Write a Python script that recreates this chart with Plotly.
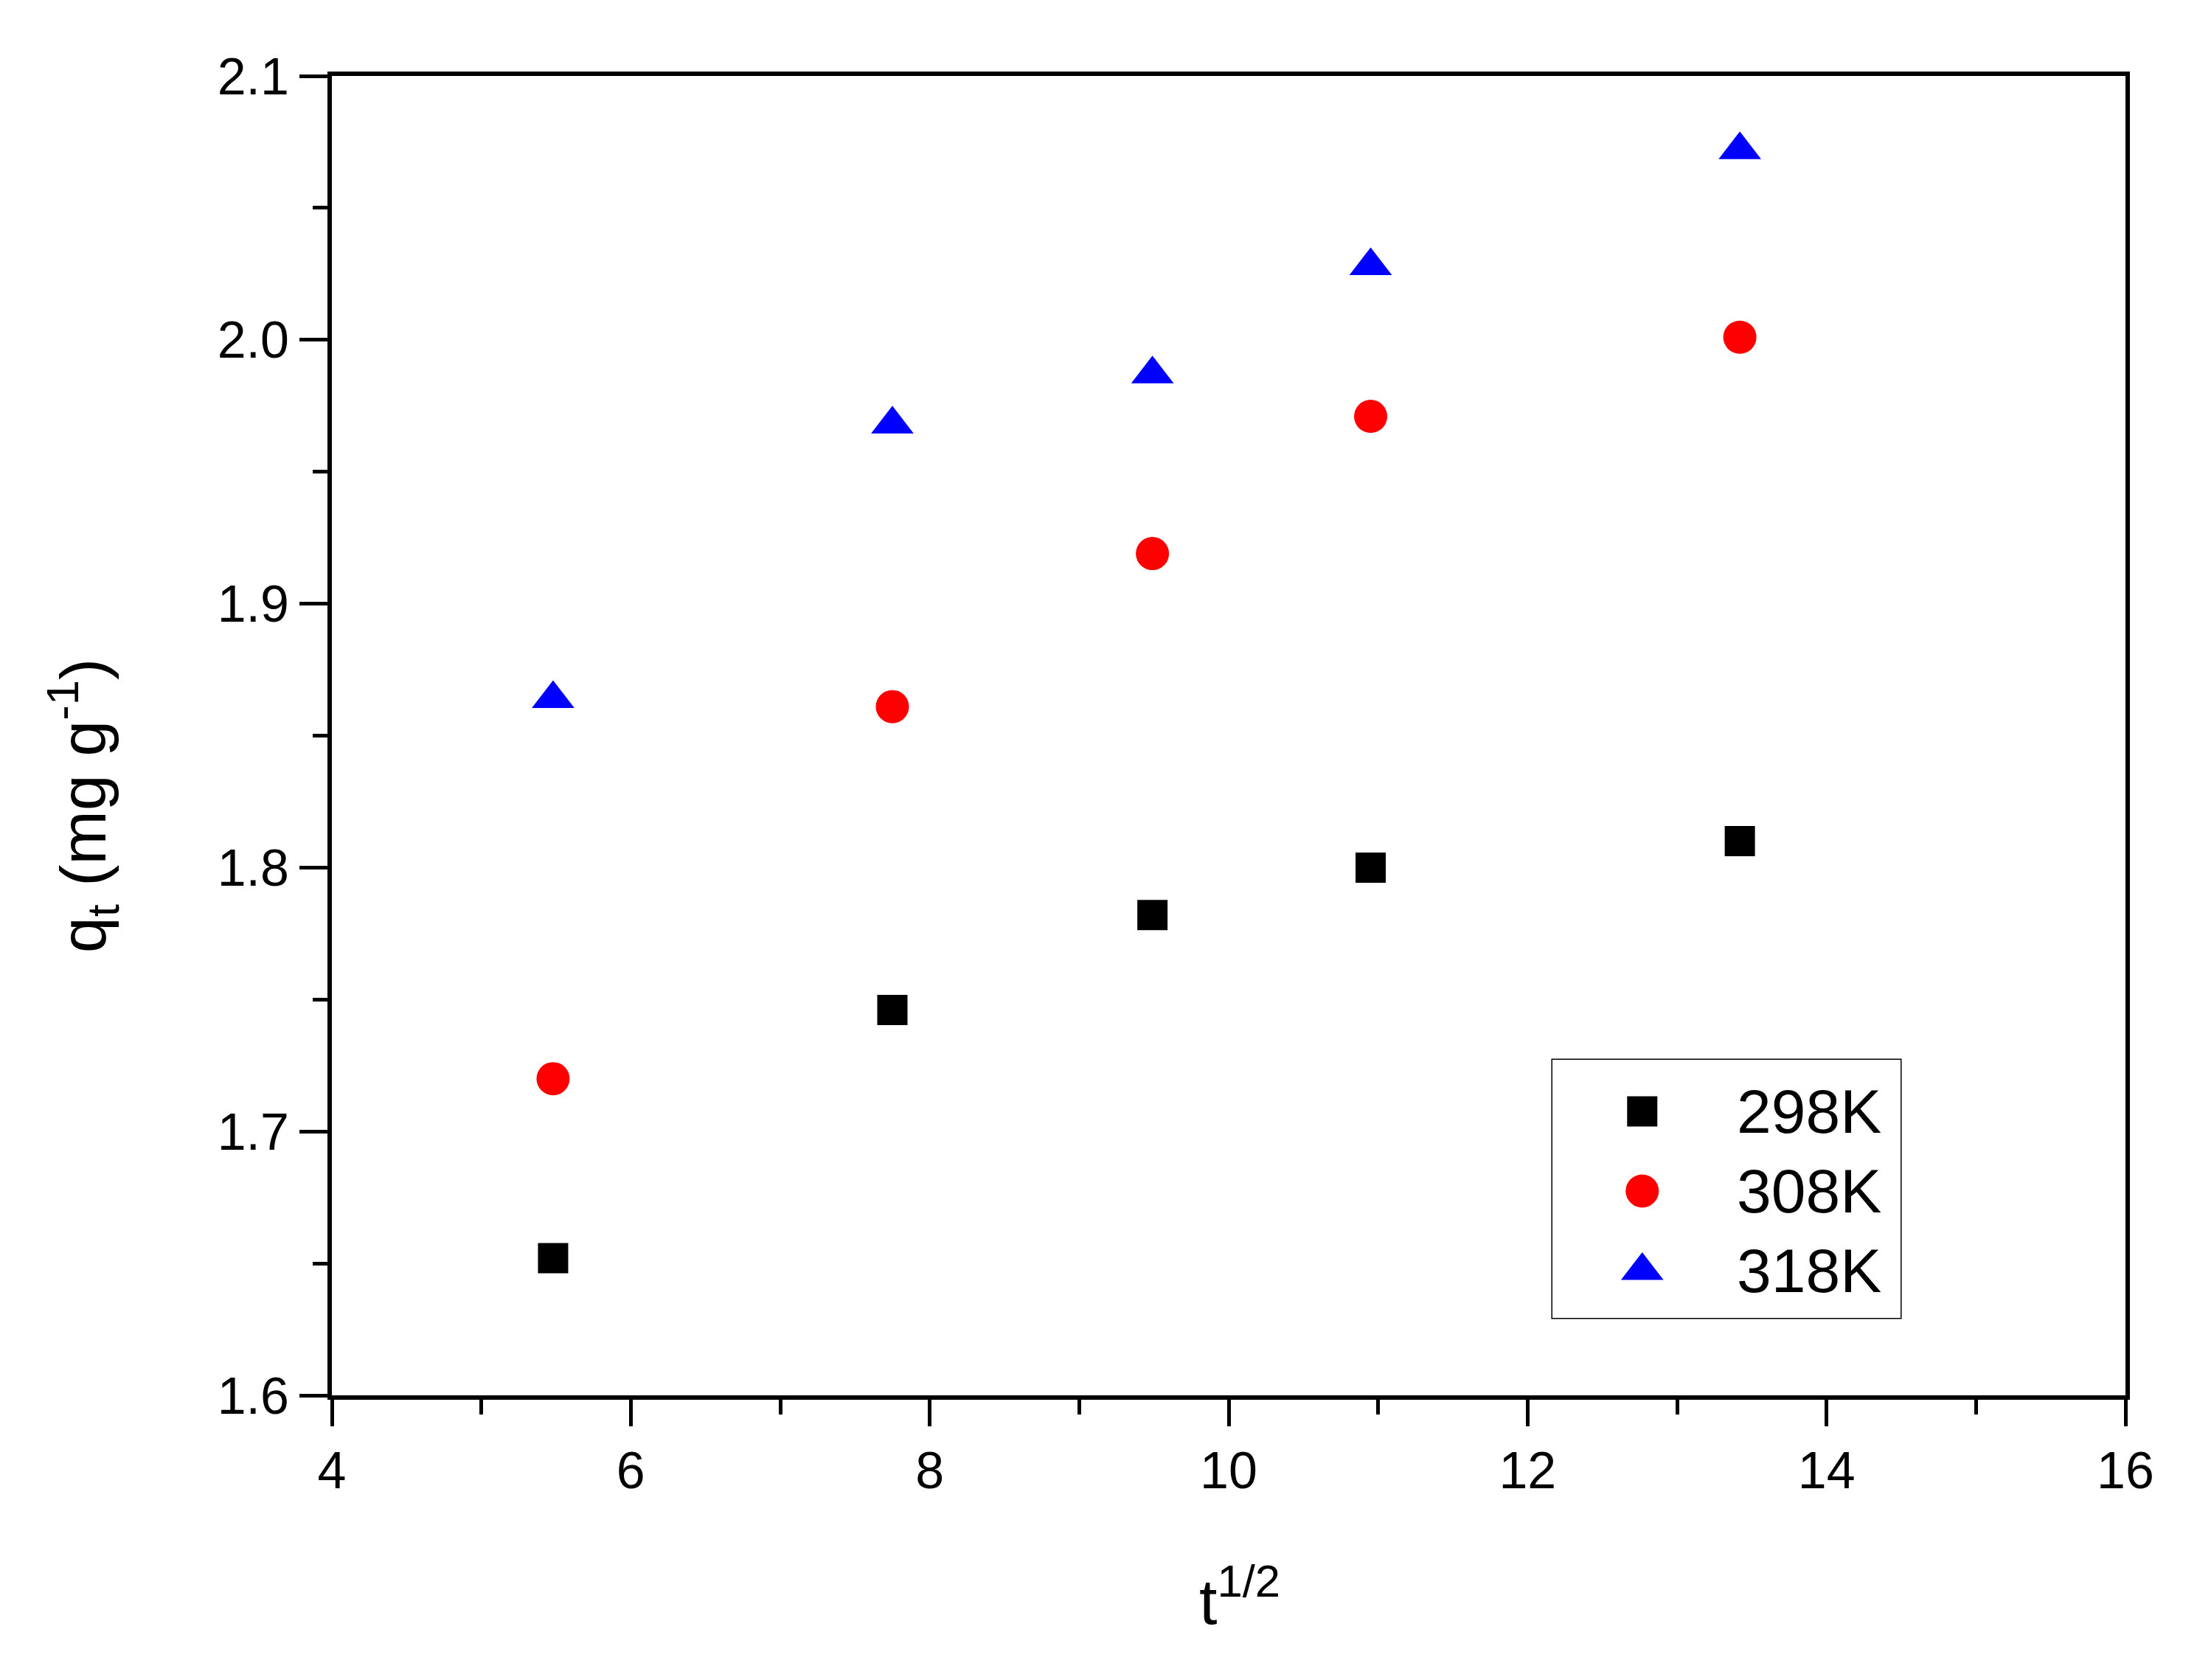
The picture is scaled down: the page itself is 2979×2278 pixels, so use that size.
import plotly.graph_objects as go

# sqrt(t) values shared by all three temperatures
sqrt_t = [5.48, 7.75, 9.49, 10.95, 13.42]

# q_t (mg/g) for each temperature
q_298 = [1.652, 1.746, 1.782, 1.800, 1.810]
q_308 = [1.720, 1.861, 1.919, 1.971, 2.001]
q_318 = [1.864, 1.968, 1.987, 2.028, 2.072]

series_names = ["298K", "308K", "318K"]
series_values = [q_298, q_308, q_318]

x_ticks = [4, 6, 8, 10, 12, 14, 16]
y_ticks = [1.6, 1.7, 1.8, 1.9, 2.0, 2.1]

styles = [
    dict(symbol="square", color="#000000", size=41),
    dict(symbol="circle", color="#ff0000", size=45),
    dict(symbol="triangle-up", color="#0000ff", size=50),
]

FONT = "Liberation Sans, Arial, sans-serif"

fig = go.Figure()

for name, vals, st in zip(series_names, series_values, styles):
    fig.add_trace(go.Scatter(
        x=sqrt_t, y=vals, mode="markers", name=name, showlegend=False,
        marker=dict(symbol=st["symbol"], color=st["color"], size=st["size"], line=dict(width=0)),
        cliponaxis=False,
    ))

# hand made legend, so the symbols stay as big as in the plot
for i, (name, st) in enumerate(zip(series_names, styles)):
    fig.add_trace(go.Scatter(
        x=[0.258], y=[-i], mode="markers", showlegend=False, hoverinfo="skip",
        marker=dict(symbol=st["symbol"], color=st["color"], size=st["size"], line=dict(width=0)),
        xaxis="x2", yaxis="y2",
    ))
    fig.add_annotation(
        x=0.525, y=-i, xref="x2", yref="y2", text=name, showarrow=False,
        xanchor="left", yanchor="middle", font=dict(family=FONT, size=84, color="black"),
    )

fig.add_shape(
    type="rect", xref="paper", yref="paper",
    x0=0.6805, x1=0.8746, y0=0.0587, y1=0.2543,
    line=dict(color="black", width=3), fillcolor="white", layer="below",
)

def axis(rng, ticks, dtick_minor, ticklen, fmt):
    return dict(
        range=rng, tickvals=ticks, tickformat=fmt,
        showline=True, linecolor="black", linewidth=6, mirror=True,
        ticks="outside", ticklen=ticklen, tickwidth=5, tickcolor="black",
        minor=dict(dtick=dtick_minor, ticks="outside", ticklen=20, tickwidth=5, tickcolor="black", showgrid=False),
        showgrid=False, zeroline=False,
        tickfont=dict(family=FONT, size=70, color="black"),
    )

# page body has an 8px margin, so the figure is a bit smaller
fig.update_layout(
    width=2971, height=2270,
    margin=dict(l=442, r=97, t=95, b=386),
    paper_bgcolor="white", plot_bgcolor="white",
    xaxis=axis([4, 16], x_ticks, 1, 36, "d"),
    yaxis=axis([1.6, 2.1], y_ticks, 0.05, 38, ".1f"),
    xaxis2=dict(domain=[0.6805, 0.8746], range=[0, 1], anchor="y2", visible=False),
    yaxis2=dict(domain=[0.0587, 0.2543], range=[-2.593, 0.647], anchor="x2", visible=False),
)

fig.add_annotation(
    x=0.506, y=-0.1526, xref="paper", yref="paper", text="t<sup>1/2</sup>",
    showarrow=False, xanchor="center", yanchor="middle",
    font=dict(family=FONT, size=88, color="black"),
)
fig.add_annotation(
    x=-0.139, y=0.447, xref="paper", yref="paper", text="q<sub>t</sub> (mg g<sup>-1</sup>)",
    showarrow=False, textangle=-90, xanchor="center", yanchor="middle",
    font=dict(family=FONT, size=88, color="black"),
)

fig.write_html("out.html")
